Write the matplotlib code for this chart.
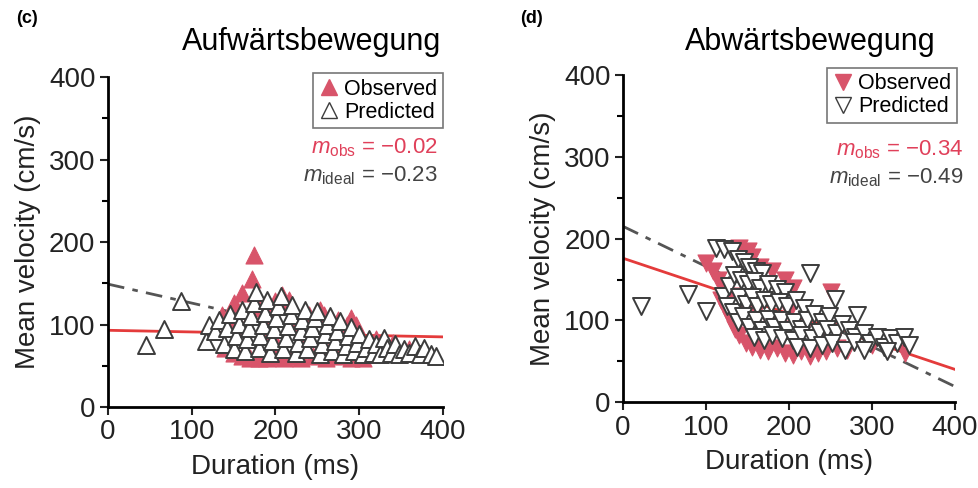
import matplotlib
matplotlib.use("Agg")
import matplotlib.pyplot as plt
import numpy as np
from matplotlib.lines import Line2D

plt.rcParams["font.family"] = ["Liberation Sans", "DejaVu Sans"]
plt.rcParams["mathtext.fontset"] = "custom"
plt.rcParams["mathtext.rm"] = "Liberation Sans"
plt.rcParams["mathtext.it"] = "Liberation Sans:italic"

# ---- data ---------------------------------------------------------------
# (c) upward movement
c_pred_dur = [45, 67, 87, 117, 121, 128, 132, 138, 142, 146, 150, 153, 156, 160, 163,
              166, 168, 171, 174, 177, 180, 182, 185, 187, 190, 193, 196, 198, 201, 203,
              206, 209, 212, 215, 218, 220, 224, 227, 230, 232, 235, 238, 241, 244, 247,
              250, 253, 256, 259, 262, 265, 268, 271, 274, 277, 281, 284, 287, 290, 294,
              297, 300, 304, 308, 312, 316, 320, 325, 330, 333, 338, 343, 348, 354, 360,
              366, 372, 377, 386, 392]
c_pred_vel = [75, 95, 128, 80, 100, 92, 106, 76, 96, 113, 70, 86, 101, 118, 68,
              82, 96, 110, 126, 140, 72, 86, 100, 114, 130, 66, 80, 94, 108, 122,
              135, 70, 84, 98, 112, 124, 66, 78, 92, 105, 118, 70, 84, 96, 108,
              116, 64, 76, 88, 100, 110, 68, 80, 92, 104, 64, 74, 86, 97, 68,
              78, 88, 64, 72, 82, 66, 76, 64, 84, 72, 66, 76, 64, 70, 66,
              74, 64, 72, 64, 62]
c_obs_dur = [174, 172, 160, 150, 136, 145, 208, 216, 200, 253, 258, 290, 296, 285,
             140, 150, 160, 170, 180, 190, 200, 210, 220, 230, 245, 260, 275, 290, 305,
             165, 185, 195, 225, 240, 265, 275, 230, 200, 180, 190, 270, 320, 340, 360, 380]
c_obs_vel = [184, 155, 138, 126, 112, 105, 136, 130, 128, 118, 112, 108, 100, 100,
             72, 66, 62, 60, 60, 60, 62, 60, 62, 60, 62, 60, 62, 60, 60,
             100, 92, 115, 100, 112, 90, 105, 80, 80, 120, 100, 80, 82, 78, 70, 66]
c_fit = {"obs": (93, -0.02), "ideal": (149, -0.23)}

# (d) downward movement
d_pred_dur = [22, 78, 100, 225, 255, 282,
              112, 122, 131, 138, 146, 152, 160, 168,
              120, 128, 134, 142, 150, 158, 165, 175, 185, 195,
              125, 133, 140, 148, 155, 162, 170, 178, 188, 198, 208, 218,
              138, 145, 152, 160, 168, 175, 182, 190, 198, 206, 214, 222, 230, 240, 248,
              158, 170, 180, 192, 205, 215, 228, 236, 246, 256, 264, 272, 280,
              210, 225, 240, 252, 268, 278, 290, 298, 306, 290, 314, 322, 330, 338, 345, 318]
d_pred_vel = [118, 132, 112, 158, 126, 106,
              188, 187, 185, 175, 172, 165, 160, 158,
              130, 142, 155, 150, 145, 148, 140, 145, 138, 135,
              118, 110, 128, 120, 128, 118, 125, 120, 122, 118, 125, 115,
              98, 105, 92, 100, 88, 102, 92, 100, 88, 98, 90, 100, 108, 98, 105,
              80, 76, 82, 78, 76, 82, 78, 86, 90, 84, 96, 88, 80,
              68, 66, 70, 72, 64, 74, 84, 72, 80, 64, 68, 78, 72, 80, 70, 62]
d_obs_dur = [100, 108, 115, 122, 118, 125, 130, 135, 140, 148, 155, 165, 175, 185,
             195, 205, 215, 225, 235, 245, 258, 270,
             140, 150, 155, 165, 180, 195, 205, 250,
             130, 145, 160, 175, 190, 200, 220, 240, 260, 280, 300, 320, 340]
d_obs_vel = [170, 160, 150, 140, 125, 110, 100, 90, 82, 72, 68, 64, 62, 66,
             60, 58, 62, 56, 60, 62, 66, 64,
             188, 185, 178, 165, 160, 150, 140, 135,
             130, 120, 110, 100, 90, 110, 95, 85, 90, 78, 70, 66, 60]
d_fit = {"obs": (176, -0.34), "ideal": (215, -0.49)}

RED_MK, RED_LN, DARK = "#d8546a", "#e43b3b", "#3c3c3c"

fig = plt.figure(figsize=(9.79, 4.88), dpi=100)
ax_c = fig.add_axes([0.1103, 0.166, 0.3422, 0.676])
ax_d = fig.add_axes([0.6364, 0.176, 0.3391, 0.670])


def panel(ax, pd, pv, od, ov, fit, mk, leg_anchor, txt_x, txt_y, s_obs, s_ideal):
    xs = np.array([0, 400])
    a, b = fit["obs"]
    ax.plot(xs, a + b * xs, color=RED_LN, lw=2, zorder=1)
    a, b = fit["ideal"]
    ax.plot(xs, a + b * xs, color="#555555", lw=2, ls=(0, (6, 3, 2, 3)), zorder=1)
    ax.scatter(od, ov, marker=mk, s=150, c=RED_MK, edgecolors=RED_MK, lw=0.8, zorder=2)
    ax.scatter(pd, pv, marker=mk, s=150, facecolors="white", edgecolors=DARK,
               lw=1.4, zorder=3)
    ax.set_xlim(0, 400); ax.set_ylim(0, 400)
    ax.set_xticks([0, 100, 200, 300, 400]); ax.set_yticks([0, 100, 200, 300, 400])
    ax.set_yticks([50, 150, 250, 350], minor=True)
    for s in ("top", "right"):
        ax.spines[s].set_visible(False)
    for s in ("left", "bottom"):
        ax.spines[s].set_linewidth(2)
    ax.tick_params(labelsize=20, width=1.5, length=6, pad=3, colors="#222222")
    ax.tick_params(which="minor", width=1.5, length=4)
    ax.set_xlabel("Duration (ms)", fontsize=20, color="#222222", labelpad=6)
    ax.set_ylabel("Mean velocity (cm/s)", fontsize=20, color="#222222", labelpad=6)
    handles = [Line2D([], [], marker=mk, ls="", ms=11, mfc=RED_MK, mec=RED_MK, label="Observed"),
               Line2D([], [], marker=mk, ls="", ms=11, mfc="white", mec=DARK, label="Predicted")]
    lg = ax.legend(handles=handles, loc="upper right", bbox_to_anchor=leg_anchor,
                   bbox_transform=fig.transFigure, fontsize=15.5, fancybox=False,
                   handletextpad=0.2, handlelength=1.0, borderpad=0.25,
                   labelspacing=0.1, borderaxespad=0)
    lg.get_frame().set_edgecolor("#555555"); lg.get_frame().set_linewidth(1.2)
    fig.text(txt_x, txt_y, s_obs, color="#e0405a", fontsize=16, ha="right", va="center")
    fig.text(txt_x, txt_y - 0.057, s_ideal, color="#444444", fontsize=16, ha="right", va="center")


panel(ax_c, c_pred_dur, c_pred_vel, c_obs_dur, c_obs_vel, c_fit, "^",
      (0.4525, 0.850), 0.4475, 0.697,
      "$m_{\\mathrm{obs}}$ = \u22120.02", "$m_{\\mathrm{ideal}}$ = \u22120.23")
panel(ax_d, d_pred_dur, d_pred_vel, d_obs_dur, d_obs_vel, d_fit, "v",
      (0.9775, 0.861), 0.984, 0.693,
      "$m_{\\mathrm{obs}}$ = \u22120.34", "$m_{\\mathrm{ideal}}$ = \u22120.49")

fig.text(0.318, 0.914, "Aufwärtsbewegung", fontsize=22, ha="center", va="center")
fig.text(0.828, 0.914, "Abwärtsbewegung", fontsize=22, ha="center", va="center")
fig.text(0.016, 0.963, "(c)", fontsize=13, fontweight="bold", va="center")
fig.text(0.531, 0.963, "(d)", fontsize=13, fontweight="bold", va="center")

fig.savefig("out.png", dpi=100)
